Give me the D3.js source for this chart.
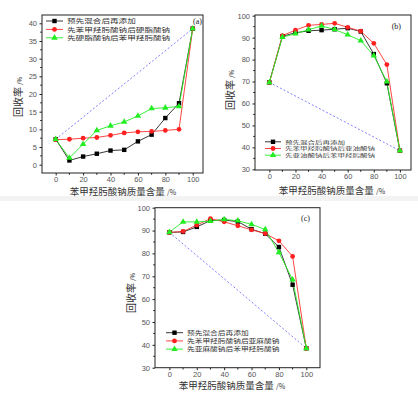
<!DOCTYPE html>
<html>
<head>
<meta charset="utf-8">
<script src="https://d3js.org/d3.v7.min.js"></script>
<style>
body { margin:0; background:#fff; }
svg { display:block; }
</style>
</head>
<body>
<div id="chart"></div>
<script>
/* x values shared by all three panels (mass content, %) */
var xValues = [0, 10, 20, 30, 40, 50, 60, 70, 80, 90, 100];

/* panel (a): stearate */
var aMixed   = [7.2, 1.2, 2.3, 3.1, 4.0, 4.2, 6.6, 8.5, 13.2, 17.4, 38.5];
var aBhaFirst = [7.1, 7.2, 7.5, 7.7, 8.3, 9.0, 9.3, 9.4, 9.7, 10.0, 38.5];
var aFaFirst  = [7.2, 1.9, 5.8, 9.7, 11.0, 12.1, 13.8, 15.9, 16.1, 16.5, 38.5];
var aLegend = ["预先混合后再添加", "先苯甲羟肟酸钠后硬脂酸钠", "先硬脂酸钠后苯甲羟肟酸钠"];

/* panel (b): linoleate */
var bMixed    = [69.6, 90.6, 92.2, 93.1, 93.4, 93.8, 94.3, 92.8, 82.5, 69.2, 38.5];
var bBhaFirst = [69.6, 90.9, 93.4, 95.6, 96.0, 96.5, 94.7, 92.9, 87.4, 77.7, 38.5];
var bFaFirst  = [69.6, 90.2, 91.8, 93.6, 95.3, 93.7, 91.3, 88.6, 81.8, 69.9, 38.5];
var bLegend = ["预先混合后再添加", "先苯甲羟肟酸钠后亚油酸钠", "先亚油酸钠后苯甲羟肟酸钠"];

/* panel (c): linolenate */
var cMixed    = [89.2, 89.4, 91.6, 94.4, 94.6, 93.9, 90.6, 88.6, 82.8, 66.3, 38.5];
var cBhaFirst = [89.2, 89.6, 92.4, 95.2, 93.8, 92.1, 90.3, 88.7, 85.5, 78.7, 38.5];
var cFaFirst  = [89.3, 93.8, 93.8, 94.1, 94.9, 94.3, 92.7, 90.5, 80.4, 68.5, 38.5];
var cLegend = ["预先混合后再添加", "先苯甲羟肟酸钠后亚麻酸钠", "先亚麻酸钠后苯甲羟肟酸钠"];

var xTicks = [0, 20, 40, 60, 80, 100];
var yTicksA = [0, 5, 10, 15, 20, 25, 30, 35, 40];
var yTicksBC = [30, 40, 50, 60, 70, 80, 90, 100];

var xTitle = "苯甲羟肟酸钠质量含量";
var yTitle = "回收率";
var unit = "/%";

var cjk = "'Noto Sans CJK SC', sans-serif";
var num = "'Liberation Sans', Arial, sans-serif";

var svg = d3.select("#chart").append("svg")
    .attr("width", 418)
    .attr("height", 395);

svg.append("rect").attr("x", 0).attr("y", 0).attr("width", 418).attr("height", 395).attr("fill", "#fff");
/* faint scan band */
svg.append("rect").attr("x", 0).attr("y", 196).attr("width", 418).attr("height", 5).attr("fill", "#f3f3f3");

var colors = ["#222", "#ff3030", "#22ee22"];

function drawPanel(p)
{
    let x = d3.scaleLinear().domain(p.xDomain).range([p.left, p.right]);
    let y = d3.scaleLinear().domain(p.yDomain).range([p.bottom, p.top]);
    let g = svg.append("g");

    /* frame */
    g.append("rect")
        .attr("x", p.left).attr("y", p.top)
        .attr("width", p.right - p.left).attr("height", p.bottom - p.top)
        .attr("fill", "#fff").attr("stroke", "#222").attr("stroke-width", 1);

    /* axes */
    let xAxis = d3.axisBottom(x).tickValues(xTicks).tickSize(2.5).tickPadding(1.5);
    let gx = g.append("g").attr("transform", "translate(0," + p.bottom + ")").call(xAxis);
    let xMinor = d3.range(10, 100, 20);
    gx.selectAll(".minor").data(xMinor).enter().append("line")
        .attr("x1", d => x(d)).attr("x2", d => x(d))
        .attr("y1", 0).attr("y2", 1.8).attr("stroke", "#222");

    let yAxis = d3.axisLeft(y).tickValues(p.yTicks).tickSize(2.5).tickPadding(2.5);
    let gy = g.append("g").attr("transform", "translate(" + p.left + ",0)").call(yAxis);
    gy.selectAll(".minor").data(p.yMinor).enter().append("line")
        .attr("x1", 0).attr("x2", -1.8)
        .attr("y1", d => y(d)).attr("y2", d => y(d)).attr("stroke", "#222");

    [gx, gy].forEach(function(a) {
        a.select(".domain").remove();
        a.selectAll(".tick line").attr("stroke", "#222");
        a.selectAll("text").attr("font-family", num).attr("font-size", "7.5px").attr("fill", "#555");
    });

    /* dashed reference line */
    let n = xValues.length - 1;
    g.append("line")
        .attr("x1", x(xValues[0])).attr("y1", y(p.series[0][0]))
        .attr("x2", x(xValues[n])).attr("y2", y(p.series[0][n]))
        .attr("stroke", "#8080ff").attr("stroke-width", 1)
        .attr("stroke-dasharray", "2,2");

    let line = d3.line().x((d, i) => x(xValues[i])).y(d => y(d));

    p.series.forEach(function(s, k) {
        g.append("path").datum(s).attr("d", line)
            .attr("fill", "none").attr("stroke", colors[k]).attr("stroke-width", 0.9);
    });
    p.series.forEach(function(s, k) {
        drawMarkers(g, s.map((d, i) => [x(xValues[i]), y(d)]), k);
    });

    /* panel label */
    g.append("text").attr("x", p.labelX).attr("y", p.labelY)
        .attr("text-anchor", "end")
        .attr("font-family", "'Liberation Serif', serif").attr("font-size", "8px")
        .attr("fill", "#222").text(p.label);

    /* legend (scan is stretched horizontally, so text is fitted to width) */
    p.legend.forEach(function(t, k) {
        let ly = p.legY + k * p.legStep;
        g.append("line").attr("x1", p.legX).attr("x2", p.legX + p.legLen)
            .attr("y1", ly).attr("y2", ly).attr("stroke", colors[k]).attr("stroke-width", 0.9);
        drawMarkers(g, [[p.legX + p.legLen / 2, ly]], k);
        g.append("text").attr("x", p.legX + p.legLen + 4).attr("y", ly).attr("dy", "0.38em")
            .attr("font-family", cjk).attr("font-size", p.legFont + "px")
            .attr("textLength", p.legCharW * t.length).attr("lengthAdjust", "spacingAndGlyphs")
            .attr("fill", "#333").text(t);
    });

    /* axis titles */
    let xt = g.append("text").attr("x", p.xTitleX).attr("y", p.xTitleY)
        .attr("text-anchor", "middle").attr("font-family", cjk).attr("fill", "#333");
    xt.append("tspan").attr("font-size", "9.5px").text(xTitle + " ");
    xt.append("tspan").attr("font-size", "7px").text(unit);

    let yt = g.append("text")
        .attr("transform", "translate(" + p.yTitleX + "," + p.yTitleY + ") rotate(-90)")
        .attr("text-anchor", "middle").attr("font-family", cjk).attr("fill", "#333");
    yt.append("tspan").attr("font-size", "10px").text(yTitle + " ");
    yt.append("tspan").attr("font-size", "6px").text(unit);
}

function drawMarkers(g, pts, k)
{
    pts.forEach(function(pt) {
        if (k == 0) {
            g.append("rect").attr("x", pt[0] - 2.2).attr("y", pt[1] - 2.2)
                .attr("width", 4.4).attr("height", 4.4).attr("fill", "#000");
        } else if (k == 1) {
            g.append("circle").attr("cx", pt[0]).attr("cy", pt[1]).attr("r", 2.4).attr("fill", "#ff2020");
        } else {
            g.append("path").attr("transform", "translate(" + pt[0] + "," + pt[1] + ")")
                .attr("d", d3.symbol().type(d3.symbolTriangle).size(18))
                .attr("fill", "#22ee22");
        }
    });
}

drawPanel({
    left: 42, right: 203, top: 15, bottom: 173,
    xDomain: [-10, 107.5], yDomain: [-2.35, 42.35],
    yTicks: yTicksA, yMinor: d3.range(2.5, 42, 5),
    series: [aMixed, aBhaFirst, aFaFirst], legend: aLegend,
    legX: 46, legY: 21, legStep: 8.4, legLen: 17, legFont: 5.8, legCharW: 8.6,
    label: "(a)", labelX: 202, labelY: 24,
    xTitleX: 123, xTitleY: 195, yTitleX: 22, yTitleY: 97
});

drawPanel({
    left: 255, right: 411, top: 15, bottom: 170,
    xDomain: [-11, 108.5], yDomain: [29.7, 100.3],
    yTicks: yTicksBC, yMinor: d3.range(35, 100, 10),
    series: [bMixed, bBhaFirst, bFaFirst], legend: bLegend,
    legX: 265, legY: 141.8, legStep: 6.7, legLen: 16, legFont: 4.6, legCharW: 7.5,
    label: "(b)", labelX: 401, labelY: 29,
    xTitleX: 332, xTitleY: 194, yTitleX: 234, yTitleY: 90
});

drawPanel({
    left: 155, right: 320, top: 207.7, bottom: 367.7,
    xDomain: [-10.5, 110], yDomain: [30, 100],
    yTicks: yTicksBC, yMinor: d3.range(35, 100, 10),
    series: [cMixed, cBhaFirst, cFaFirst], legend: cLegend,
    legX: 166, legY: 332.7, legStep: 8.2, legLen: 17, legFont: 5.6, legCharW: 7.7,
    label: "(c)", labelX: 310, labelY: 221,
    xTitleX: 232, xTitleY: 389, yTitleX: 135, yTitleY: 293
});
</script>
</body>
</html>
